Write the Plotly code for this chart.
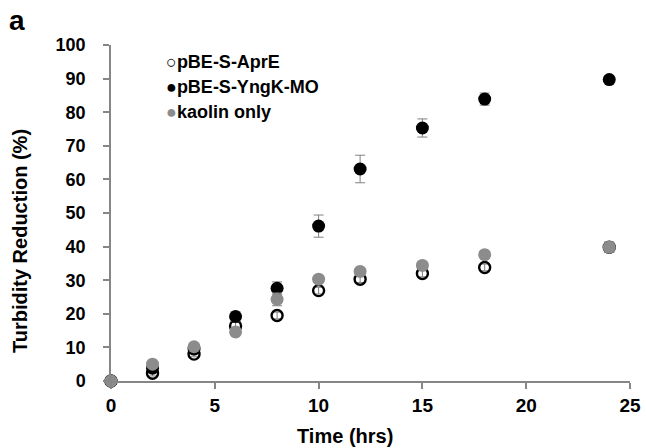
import plotly.graph_objects as go

time_hrs = [0, 2, 4, 6, 8, 10, 12, 15, 18, 24]
aprE = [0, 2.3, 8.0, 16.4, 19.5, 26.9, 30.3, 32.0, 33.8, 39.8]
aprE_err = [0, 0.8, 0.8, 1.0, 1.0, 1.0, 1.0, 1.0, 1.0, 1.5]
yngk = [0, 3.8, 9.5, 19.2, 27.6, 46.1, 63.1, 75.3, 83.9, 89.7]
yngk_err = [0, 0.8, 0.8, 1.4, 1.9, 3.3, 4.1, 2.7, 1.8, 0.8]
kaolin = [0, 5.0, 10.2, 14.6, 24.3, 30.3, 32.6, 34.4, 37.6, 39.8]
kaolin_err = [0, 0.8, 0.8, 1.0, 1.9, 1.0, 1.0, 1.0, 1.0, 1.5]

names = ["pBE-S-AprE", "pBE-S-YngK-MO", "kaolin only"]
font = "Liberation Sans, Arial, sans-serif"
errc = "#808080"
gray = "#8c8c8c"
axc = "#868686"

W, H = 646, 448
L, R, T, B = 111, 16, 45, 67
pw, ph = W - L - R, H - T - B


def px(x):
    return (x - L) / pw


def py(y):
    return (H - B - y) / ph


fig = go.Figure()
fig.add_trace(go.Scatter(
    x=time_hrs, y=aprE, mode="markers", name=names[0],
    error_y=dict(type="data", array=aprE_err, color=errc, thickness=1, width=5),
    marker=dict(symbol="circle-open", size=11, color="black", line=dict(width=2.4, color="black"))))
fig.add_trace(go.Scatter(
    x=time_hrs, y=yngk, mode="markers", name=names[1],
    error_y=dict(type="data", array=yngk_err, color=errc, thickness=1, width=5),
    marker=dict(symbol="circle", size=13, color="black")))
fig.add_trace(go.Scatter(
    x=time_hrs, y=kaolin, mode="markers", name=names[2],
    error_y=dict(type="data", array=kaolin_err, color=errc, thickness=1, width=5),
    marker=dict(symbol="circle", size=13, color=gray)))
for tr in fig.data:
    tr.cliponaxis = False

axis_common = dict(
    showgrid=False, zeroline=False, showline=True, linecolor=axc, linewidth=1.5,
    ticks="outside", tickcolor=axc, ticklen=6, tickwidth=1.5, automargin=False,
)

bold = dict(family=font, color="black", weight="bold")
annotations = [
    dict(text="a", x=px(7), y=py(20), xanchor="left", yanchor="middle",
         font=dict(size=28, **bold)),
    dict(text="Turbidity Reduction (%)", x=px(20), y=py(241), textangle=-90,
         xanchor="center", yanchor="middle", font=dict(size=20, **bold)),
    dict(text="Time (hrs)", x=px(345), y=py(436), xanchor="center", yanchor="middle",
         font=dict(size=20, **bold)),
]
legend_y = [62, 87, 112]
legend_sym = ["<span style='color:black'>○</span>",
              "<span style='color:black'>●</span>",
              f"<span style='color:{gray}'>●</span>"]
for sym, nm, ly in zip(legend_sym, names, legend_y):
    annotations.append(dict(text=sym + nm, x=px(164), y=py(ly), xanchor="left", yanchor="middle",
                            font=dict(size=18, **bold)))
for a in annotations:
    a.update(xref="paper", yref="paper", showarrow=False)

fig.update_layout(
    width=W, height=H,
    margin=dict(l=L, r=R, t=T, b=B),
    paper_bgcolor="white", plot_bgcolor="white",
    showlegend=False,
    xaxis=dict(range=[0, 25], dtick=5, tick0=0, ticklabelstandoff=0,
               tickfont=dict(size=19, **bold), **axis_common),
    yaxis=dict(range=[0, 100], dtick=10, tick0=0, ticklabelstandoff=14,
               tickfont=dict(size=18, **bold), **axis_common),
    annotations=annotations,
)

fig.write_html("out.html", config={"displayModeBar": False},
               post_script="document.body.style.margin='0';document.body.style.overflow='hidden';")
